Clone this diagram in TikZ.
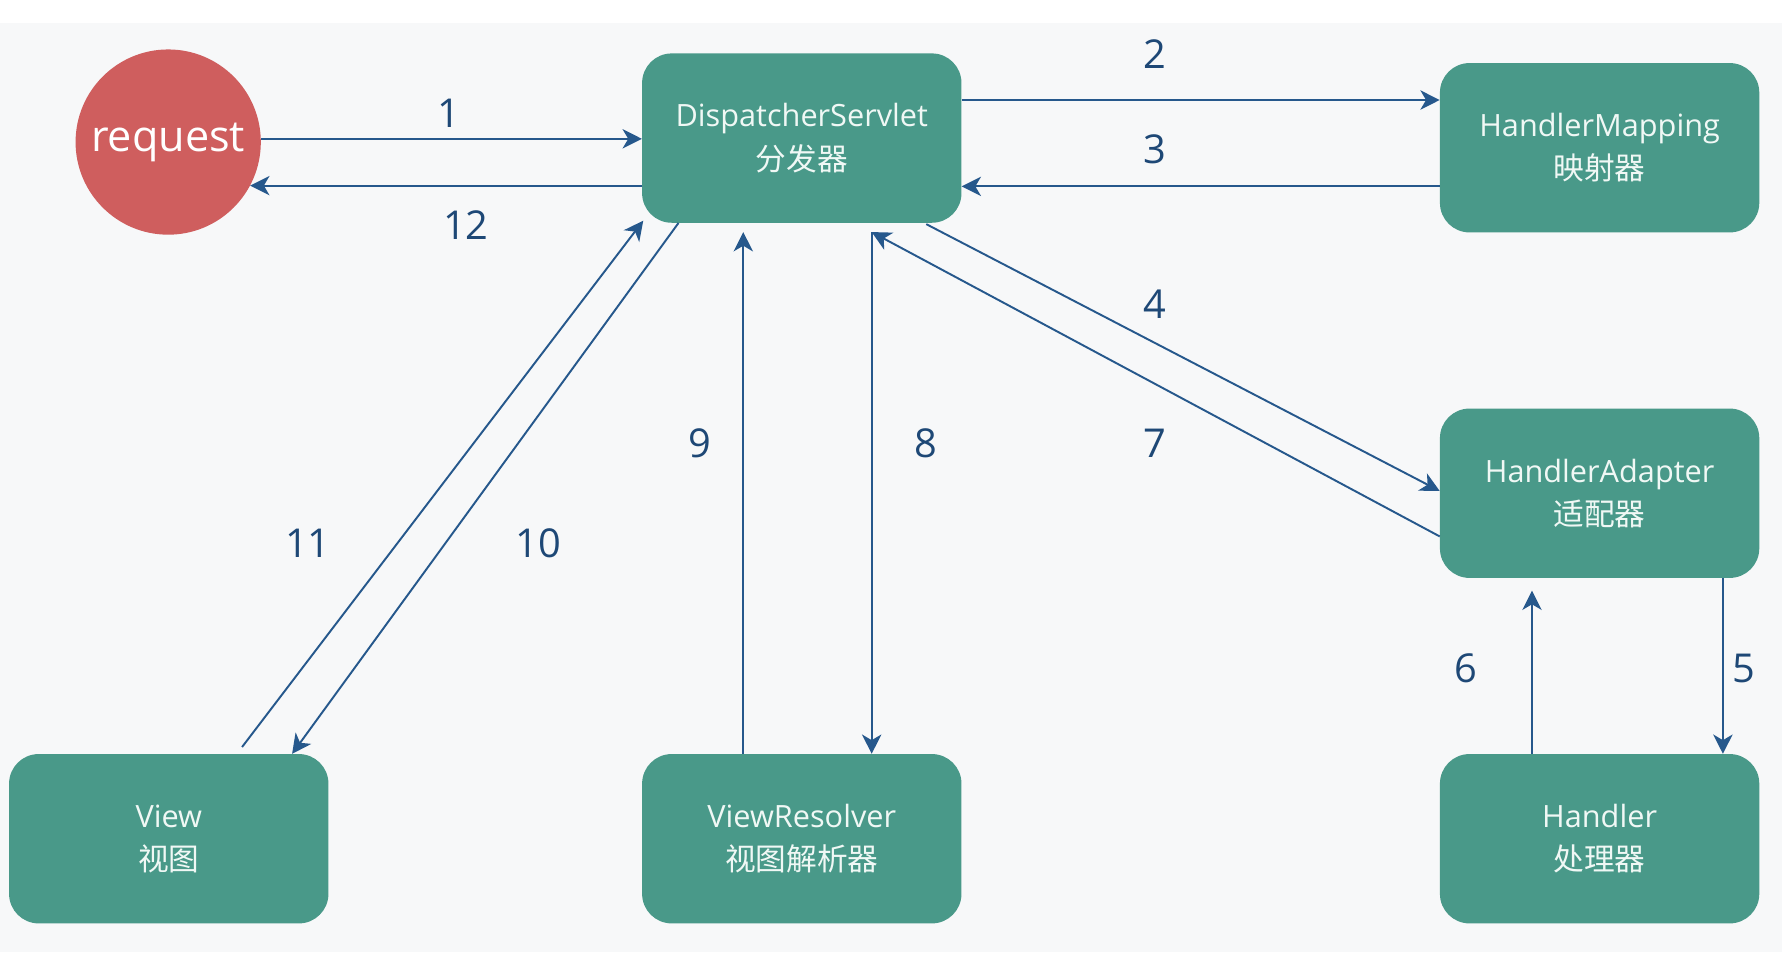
\documentclass[tikz,border=0pt]{standalone}
\usepackage{fontspec}
\setmainfont{Open Sans}
\newfontfamily\cjk{Noto Sans CJK SC}
\usetikzlibrary{arrows.meta,calc}
\definecolor{boxc}{RGB}{73,153,137}
\definecolor{redc}{RGB}{207,94,94}
\definecolor{arrc}{RGB}{38,88,140}
\definecolor{labc}{RGB}{30,72,118}
\definecolor{bgc}{RGB}{247,248,249}
\definecolor{txtc}{RGB}{240,248,245}
\begin{document}
\begin{tikzpicture}[x=1pt,y=-1pt,
  box/.style={rounded corners=26pt, fill=boxc, minimum width=281pt, minimum height=149pt, text=txtc, align=center, font=\fontsize{27}{38}\selectfont, inner sep=0pt},
  arr/.style={draw=arrc, line width=1.7pt, -{Stealth[length=17pt,width=17pt,inset=5pt]}},
  lab/.style={text=labc, font=\fontsize{35}{40}\selectfont, inner sep=0pt}]
\fill[bgc] (0,0) rectangle (1568,838);
\fill[white] (0,0) rectangle (1568,20);
\useasboundingbox (0,0) rectangle (1568,838);
% nodes
\node[circle, fill=redc, minimum size=163pt, inner sep=0pt, text=white, font=\fontsize{38}{40}\selectfont] (req) at (148,125) {request};
\node[box] (ds) at (705.5,121.5) {DispatcherServlet\\{\cjk 分发器}};
\node[box] (hm) at (1407.5,130) {HandlerMapping\\{\cjk 映射器}};
\node[box] (ha) at (1407.5,434) {HandlerAdapter\\{\cjk 适配器}};
\node[box] (view) at (148.5,738) {View\\{\cjk 视图}};
\node[box] (vr) at (705.5,738) {ViewResolver\\{\cjk 视图解析器}};
\node[box] (hd) at (1407.5,738) {Handler\\{\cjk 处理器}};
% helper coordinates
\coordinate (c2) at ($(ds.east)+(0,-33.5)$);
\coordinate (c3) at ($(hm.west)+(0,34)$);
\coordinate (c4s) at ($(ds.south)+(109.5,1)$);
\coordinate (c4e) at ($(ha.west)+(0,-2)$);
\coordinate (c7s) at ($(ha.west)+(0,38)$);
\coordinate (c7e) at ($(ds.south)+(61.5,8)$);
\coordinate (c8e) at ($(vr.north)+(61.5,0)$);
\coordinate (c9s) at ($(vr.north)+(-51.5,0)$);
\coordinate (c9e) at ($(ds.south)+(-51.5,8)$);
\coordinate (c10s) at ($(ds.south)+(-108.5,0)$);
\coordinate (c10e) at ($(view.north)+(108.5,0)$);
\coordinate (c11s) at ($(view.north)+(64.5,-6)$);
\coordinate (c11e) at ($(ds.south)+(-139.5,-2)$);
\coordinate (c5s) at ($(ha.south)+(108.5,0)$);
\coordinate (c6s) at ($(hd.north)+(-59.5,0)$);
\coordinate (c6e) at ($(ha.south)+(-59.5,11)$);
% connectors
\draw[arr] (req.2) -- (req.2 -| ds.west);
\draw[arr] (ds.west |- req.-28.6) -- (req.-28.6);
\draw[arr] (c2) -- (c2 -| hm.west);
\draw[arr] (c3) -- (c3 -| ds.east);
\draw[arr] (c4s) -- (c4e);
\draw[arr] (c7s) -- (c7e);
\draw[arr] (c7e) -- (c8e);
\draw[arr] (c9s) -- (c9e);
\draw[arr] (c10s) -- (c10e);
\draw[arr] (c11s) -- (c11e);
\draw[arr] (c5s) -- (c5s |- hd.north);
\draw[arr] (c6s) -- (c6e);
% labels
\node[lab] (l1) at (395,100) {1};
\node[lab] (l12) at (410,198) {12};
\node[lab] (l2) at (1016,48) {2};
\node[lab] (l3) at (1016,131) {3};
\node[lab] (l4) at (1016,268) {4};
\node[lab] (l7) at (1016,390) {7};
\node[lab] (l8) at (815,390) {8};
\node[lab] (l9) at (616,390) {9};
\node[lab] (l11) at (271,478) {11};
\node[lab] (l10) at (474,478) {10};
\node[lab] (l6) at (1290,588) {6};
\node[lab] (l5) at (1534,588) {5};
\end{tikzpicture}
\end{document}
